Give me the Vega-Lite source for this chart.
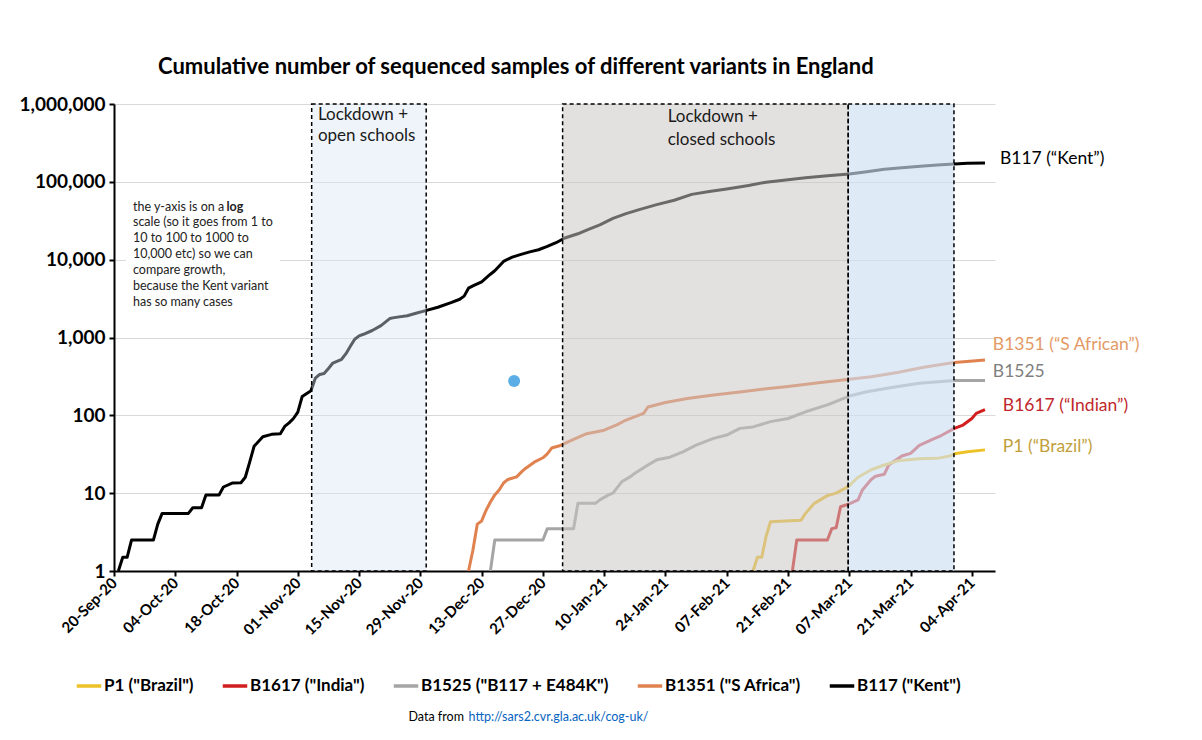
{
  "$schema": "https://vega.github.io/schema/vega-lite/v6.json",
  "width": 881,
  "height": 467,
  "autosize": {"type": "none"},
  "padding": {"left": 114, "top": 104, "right": 207, "bottom": 169},
  "background": "white",
  "title": {"text": "Cumulative number of sequenced samples of different variants in England", "anchor": "start", "frame": "group", "dx": 44, "offset": 16, "font": "Lato", "fontSize": 22, "fontWeight": "bold", "color": "black"},
  "config": {
    "view": {"stroke": null},
    "font": "Lato"
  },
  "datasets": {
    "series": [
      {"date": "2020-09-21", "value": 1, "variant": "B117"},
      {"date": "2020-09-22", "value": 1.5, "variant": "B117"},
      {"date": "2020-09-23", "value": 1.5, "variant": "B117"},
      {"date": "2020-09-24", "value": 2.5, "variant": "B117"},
      {"date": "2020-09-29", "value": 2.5, "variant": "B117"},
      {"date": "2020-09-30", "value": 4, "variant": "B117"},
      {"date": "2020-10-01", "value": 5.5, "variant": "B117"},
      {"date": "2020-10-07", "value": 5.5, "variant": "B117"},
      {"date": "2020-10-08", "value": 6.5, "variant": "B117"},
      {"date": "2020-10-10", "value": 6.5, "variant": "B117"},
      {"date": "2020-10-11", "value": 9.5, "variant": "B117"},
      {"date": "2020-10-14", "value": 9.5, "variant": "B117"},
      {"date": "2020-10-15", "value": 12, "variant": "B117"},
      {"date": "2020-10-17", "value": 13.5, "variant": "B117"},
      {"date": "2020-10-19", "value": 13.6, "variant": "B117"},
      {"date": "2020-10-20", "value": 16, "variant": "B117"},
      {"date": "2020-10-21", "value": 25, "variant": "B117"},
      {"date": "2020-10-22", "value": 40, "variant": "B117"},
      {"date": "2020-10-24", "value": 53, "variant": "B117"},
      {"date": "2020-10-26", "value": 57, "variant": "B117"},
      {"date": "2020-10-28", "value": 58, "variant": "B117"},
      {"date": "2020-10-29", "value": 72, "variant": "B117"},
      {"date": "2020-10-30", "value": 80, "variant": "B117"},
      {"date": "2020-10-31", "value": 91, "variant": "B117"},
      {"date": "2020-11-01", "value": 110, "variant": "B117"},
      {"date": "2020-11-02", "value": 175, "variant": "B117"},
      {"date": "2020-11-04", "value": 207, "variant": "B117"},
      {"date": "2020-11-05", "value": 300, "variant": "B117"},
      {"date": "2020-11-06", "value": 335, "variant": "B117"},
      {"date": "2020-11-07", "value": 345, "variant": "B117"},
      {"date": "2020-11-08", "value": 400, "variant": "B117"},
      {"date": "2020-11-09", "value": 470, "variant": "B117"},
      {"date": "2020-11-11", "value": 525, "variant": "B117"},
      {"date": "2020-11-12", "value": 620, "variant": "B117"},
      {"date": "2020-11-13", "value": 770, "variant": "B117"},
      {"date": "2020-11-14", "value": 950, "variant": "B117"},
      {"date": "2020-11-15", "value": 1050, "variant": "B117"},
      {"date": "2020-11-16", "value": 1100, "variant": "B117"},
      {"date": "2020-11-18", "value": 1230, "variant": "B117"},
      {"date": "2020-11-20", "value": 1420, "variant": "B117"},
      {"date": "2020-11-22", "value": 1750, "variant": "B117"},
      {"date": "2020-11-23", "value": 1800, "variant": "B117"},
      {"date": "2020-11-26", "value": 1900, "variant": "B117"},
      {"date": "2020-11-28", "value": 2050, "variant": "B117"},
      {"date": "2020-11-30", "value": 2200, "variant": "B117"},
      {"date": "2020-12-03", "value": 2450, "variant": "B117"},
      {"date": "2020-12-06", "value": 2800, "variant": "B117"},
      {"date": "2020-12-08", "value": 3100, "variant": "B117"},
      {"date": "2020-12-09", "value": 3400, "variant": "B117"},
      {"date": "2020-12-10", "value": 4300, "variant": "B117"},
      {"date": "2020-12-11", "value": 4600, "variant": "B117"},
      {"date": "2020-12-13", "value": 5200, "variant": "B117"},
      {"date": "2020-12-15", "value": 6500, "variant": "B117"},
      {"date": "2020-12-16", "value": 7200, "variant": "B117"},
      {"date": "2020-12-18", "value": 9500, "variant": "B117"},
      {"date": "2020-12-20", "value": 10800, "variant": "B117"},
      {"date": "2020-12-22", "value": 11700, "variant": "B117"},
      {"date": "2020-12-24", "value": 12600, "variant": "B117"},
      {"date": "2020-12-26", "value": 13400, "variant": "B117"},
      {"date": "2020-12-28", "value": 14800, "variant": "B117"},
      {"date": "2020-12-30", "value": 16500, "variant": "B117"},
      {"date": "2021-01-01", "value": 19000, "variant": "B117"},
      {"date": "2021-01-04", "value": 21500, "variant": "B117"},
      {"date": "2021-01-06", "value": 24000, "variant": "B117"},
      {"date": "2021-01-09", "value": 28000, "variant": "B117"},
      {"date": "2021-01-12", "value": 34000, "variant": "B117"},
      {"date": "2021-01-15", "value": 39000, "variant": "B117"},
      {"date": "2021-01-18", "value": 44000, "variant": "B117"},
      {"date": "2021-01-22", "value": 51000, "variant": "B117"},
      {"date": "2021-01-26", "value": 58000, "variant": "B117"},
      {"date": "2021-01-30", "value": 69000, "variant": "B117"},
      {"date": "2021-02-03", "value": 75000, "variant": "B117"},
      {"date": "2021-02-07", "value": 81000, "variant": "B117"},
      {"date": "2021-02-12", "value": 90000, "variant": "B117"},
      {"date": "2021-02-16", "value": 99000, "variant": "B117"},
      {"date": "2021-02-21", "value": 106000, "variant": "B117"},
      {"date": "2021-02-25", "value": 113000, "variant": "B117"},
      {"date": "2021-03-02", "value": 120000, "variant": "B117"},
      {"date": "2021-03-07", "value": 126000, "variant": "B117"},
      {"date": "2021-03-11", "value": 135000, "variant": "B117"},
      {"date": "2021-03-15", "value": 145000, "variant": "B117"},
      {"date": "2021-03-19", "value": 152000, "variant": "B117"},
      {"date": "2021-03-24", "value": 160000, "variant": "B117"},
      {"date": "2021-03-28", "value": 166000, "variant": "B117"},
      {"date": "2021-03-31", "value": 170000, "variant": "B117"},
      {"date": "2021-04-03", "value": 173000, "variant": "B117"},
      {"date": "2021-04-07", "value": 175000, "variant": "B117"},

      {"date": "2020-12-10", "value": 1, "variant": "B1351"},
      {"date": "2020-12-11", "value": 1.85, "variant": "B1351"},
      {"date": "2020-12-12", "value": 4, "variant": "B1351"},
      {"date": "2020-12-13", "value": 4.4, "variant": "B1351"},
      {"date": "2020-12-14", "value": 6, "variant": "B1351"},
      {"date": "2020-12-15", "value": 7.7, "variant": "B1351"},
      {"date": "2020-12-16", "value": 9.5, "variant": "B1351"},
      {"date": "2020-12-17", "value": 11, "variant": "B1351"},
      {"date": "2020-12-18", "value": 13.5, "variant": "B1351"},
      {"date": "2020-12-19", "value": 15, "variant": "B1351"},
      {"date": "2020-12-21", "value": 16.2, "variant": "B1351"},
      {"date": "2020-12-22", "value": 18.5, "variant": "B1351"},
      {"date": "2020-12-23", "value": 20.8, "variant": "B1351"},
      {"date": "2020-12-25", "value": 25, "variant": "B1351"},
      {"date": "2020-12-27", "value": 28.5, "variant": "B1351"},
      {"date": "2020-12-28", "value": 32, "variant": "B1351"},
      {"date": "2020-12-29", "value": 38, "variant": "B1351"},
      {"date": "2020-12-31", "value": 41, "variant": "B1351"},
      {"date": "2021-01-03", "value": 49, "variant": "B1351"},
      {"date": "2021-01-06", "value": 58, "variant": "B1351"},
      {"date": "2021-01-10", "value": 64.5, "variant": "B1351"},
      {"date": "2021-01-13", "value": 76, "variant": "B1351"},
      {"date": "2021-01-15", "value": 87, "variant": "B1351"},
      {"date": "2021-01-19", "value": 106, "variant": "B1351"},
      {"date": "2021-01-20", "value": 128, "variant": "B1351"},
      {"date": "2021-01-24", "value": 146, "variant": "B1351"},
      {"date": "2021-01-29", "value": 165, "variant": "B1351"},
      {"date": "2021-02-04", "value": 183, "variant": "B1351"},
      {"date": "2021-02-10", "value": 200, "variant": "B1351"},
      {"date": "2021-02-16", "value": 220, "variant": "B1351"},
      {"date": "2021-02-21", "value": 235, "variant": "B1351"},
      {"date": "2021-02-28", "value": 262, "variant": "B1351"},
      {"date": "2021-03-07", "value": 290, "variant": "B1351"},
      {"date": "2021-03-12", "value": 314, "variant": "B1351"},
      {"date": "2021-03-18", "value": 355, "variant": "B1351"},
      {"date": "2021-03-24", "value": 415, "variant": "B1351"},
      {"date": "2021-03-28", "value": 450, "variant": "B1351"},
      {"date": "2021-03-31", "value": 478, "variant": "B1351"},
      {"date": "2021-04-07", "value": 515, "variant": "B1351"},

      {"date": "2020-12-15", "value": 1, "variant": "B1525"},
      {"date": "2020-12-16", "value": 2.5, "variant": "B1525"},
      {"date": "2020-12-27", "value": 2.5, "variant": "B1525"},
      {"date": "2020-12-28", "value": 3.5, "variant": "B1525"},
      {"date": "2021-01-03", "value": 3.5, "variant": "B1525"},
      {"date": "2021-01-04", "value": 7.4, "variant": "B1525"},
      {"date": "2021-01-08", "value": 7.4, "variant": "B1525"},
      {"date": "2021-01-09", "value": 8.2, "variant": "B1525"},
      {"date": "2021-01-11", "value": 9.5, "variant": "B1525"},
      {"date": "2021-01-12", "value": 10, "variant": "B1525"},
      {"date": "2021-01-14", "value": 14, "variant": "B1525"},
      {"date": "2021-01-16", "value": 16.3, "variant": "B1525"},
      {"date": "2021-01-17", "value": 18, "variant": "B1525"},
      {"date": "2021-01-20", "value": 23, "variant": "B1525"},
      {"date": "2021-01-22", "value": 26.8, "variant": "B1525"},
      {"date": "2021-01-25", "value": 29, "variant": "B1525"},
      {"date": "2021-01-28", "value": 34, "variant": "B1525"},
      {"date": "2021-01-31", "value": 41.5, "variant": "B1525"},
      {"date": "2021-02-04", "value": 50.6, "variant": "B1525"},
      {"date": "2021-02-07", "value": 55.8, "variant": "B1525"},
      {"date": "2021-02-10", "value": 68, "variant": "B1525"},
      {"date": "2021-02-13", "value": 71, "variant": "B1525"},
      {"date": "2021-02-17", "value": 83, "variant": "B1525"},
      {"date": "2021-02-21", "value": 91, "variant": "B1525"},
      {"date": "2021-02-25", "value": 111, "variant": "B1525"},
      {"date": "2021-03-02", "value": 136, "variant": "B1525"},
      {"date": "2021-03-07", "value": 177, "variant": "B1525"},
      {"date": "2021-03-11", "value": 201, "variant": "B1525"},
      {"date": "2021-03-17", "value": 230, "variant": "B1525"},
      {"date": "2021-03-23", "value": 259, "variant": "B1525"},
      {"date": "2021-03-31", "value": 280, "variant": "B1525"},
      {"date": "2021-04-07", "value": 280, "variant": "B1525"},

      {"date": "2021-02-22", "value": 1, "variant": "B1617"},
      {"date": "2021-02-23", "value": 2.5, "variant": "B1617"},
      {"date": "2021-03-02", "value": 2.5, "variant": "B1617"},
      {"date": "2021-03-03", "value": 3.5, "variant": "B1617"},
      {"date": "2021-03-04", "value": 3.6, "variant": "B1617"},
      {"date": "2021-03-05", "value": 6.7, "variant": "B1617"},
      {"date": "2021-03-07", "value": 7.3, "variant": "B1617"},
      {"date": "2021-03-09", "value": 8.2, "variant": "B1617"},
      {"date": "2021-03-10", "value": 11, "variant": "B1617"},
      {"date": "2021-03-12", "value": 15, "variant": "B1617"},
      {"date": "2021-03-13", "value": 16.5, "variant": "B1617"},
      {"date": "2021-03-15", "value": 17.5, "variant": "B1617"},
      {"date": "2021-03-16", "value": 23, "variant": "B1617"},
      {"date": "2021-03-19", "value": 30, "variant": "B1617"},
      {"date": "2021-03-21", "value": 32.5, "variant": "B1617"},
      {"date": "2021-03-23", "value": 41, "variant": "B1617"},
      {"date": "2021-03-26", "value": 49, "variant": "B1617"},
      {"date": "2021-03-28", "value": 55, "variant": "B1617"},
      {"date": "2021-03-31", "value": 68, "variant": "B1617"},
      {"date": "2021-04-02", "value": 75, "variant": "B1617"},
      {"date": "2021-04-04", "value": 91, "variant": "B1617"},
      {"date": "2021-04-05", "value": 106, "variant": "B1617"},
      {"date": "2021-04-07", "value": 118, "variant": "B1617"},

      {"date": "2021-02-13", "value": 1, "variant": "P1"},
      {"date": "2021-02-14", "value": 1.5, "variant": "P1"},
      {"date": "2021-02-15", "value": 1.5, "variant": "P1"},
      {"date": "2021-02-16", "value": 2.8, "variant": "P1"},
      {"date": "2021-02-17", "value": 4.3, "variant": "P1"},
      {"date": "2021-02-24", "value": 4.5, "variant": "P1"},
      {"date": "2021-02-25", "value": 5.5, "variant": "P1"},
      {"date": "2021-02-27", "value": 7.4, "variant": "P1"},
      {"date": "2021-03-02", "value": 9.3, "variant": "P1"},
      {"date": "2021-03-04", "value": 10, "variant": "P1"},
      {"date": "2021-03-06", "value": 11.5, "variant": "P1"},
      {"date": "2021-03-07", "value": 12.5, "variant": "P1"},
      {"date": "2021-03-09", "value": 16, "variant": "P1"},
      {"date": "2021-03-12", "value": 20, "variant": "P1"},
      {"date": "2021-03-15", "value": 23, "variant": "P1"},
      {"date": "2021-03-18", "value": 26, "variant": "P1"},
      {"date": "2021-03-23", "value": 27.6, "variant": "P1"},
      {"date": "2021-03-27", "value": 28, "variant": "P1"},
      {"date": "2021-03-30", "value": 30, "variant": "P1"},
      {"date": "2021-03-31", "value": 32, "variant": "P1"},
      {"date": "2021-04-03", "value": 34, "variant": "P1"},
      {"date": "2021-04-07", "value": 36, "variant": "P1"}
    ],
    "regions": [
      {"start": "2020-11-04T04:00:00Z", "end": "2020-11-30T08:00:00Z", "region": "open"},
      {"start": "2020-12-31T12:00:00Z", "end": "2021-03-06T18:00:00Z", "region": "closed"},
      {"start": "2021-03-06T18:00:00Z", "end": "2021-03-30T22:00:00Z", "region": "march"}
    ],
    "box": [
      {"start": "2020-09-22T17:00:00Z", "end": "2020-10-27T22:00:00Z", "top": 67760, "bottom": 1946}
    ],
    "note": [
      {"date": "2020-09-24T08:00:00Z", "value": 47970, "text": "the y-axis is on a"},
      {"date": "2020-09-24T08:00:00Z", "value": 30060, "text": "scale (so it goes from 1 to"},
      {"date": "2020-09-24T08:00:00Z", "value": 18830, "text": "10 to 100 to 1000 to"},
      {"date": "2020-09-24T08:00:00Z", "value": 11800, "text": "10,000 etc) so we  can"},
      {"date": "2020-09-24T08:00:00Z", "value": 7390, "text": "compare growth,"},
      {"date": "2020-09-24T08:00:00Z", "value": 4630, "text": "because the  Kent variant"},
      {"date": "2020-09-24T08:00:00Z", "value": 2900, "text": "has so many cases"}
    ],
    "noteBold": [
      {"date": "2020-10-15T17:00:00Z", "value": 47970, "text": "log"}
    ],
    "lockdown": [
      {"date": "2020-11-05T14:00:00Z", "value": 722000, "text": "Lockdown +"},
      {"date": "2020-11-05T14:00:00Z", "value": 388000, "text": "open schools"},
      {"date": "2021-01-24T12:00:00Z", "value": 681000, "text": "Lockdown +"},
      {"date": "2021-01-24T12:00:00Z", "value": 345000, "text": "closed schools"}
    ],
    "labels": [
      {"date": "2021-04-10T10:00:00Z", "value": 196700, "text": "B117 (“Kent”)", "variant": "B117"},
      {"date": "2021-04-08T19:00:00Z", "value": 801, "text": "B1351 (“S African”)", "variant": "B1351"},
      {"date": "2021-04-08T19:00:00Z", "value": 361, "text": "B1525", "variant": "B1525"},
      {"date": "2021-04-11T02:00:00Z", "value": 132, "text": "B1617 (“Indian”)", "variant": "B1617"},
      {"date": "2021-04-11T02:00:00Z", "value": 39.2, "text": "P1 (“Brazil”)", "variant": "P1"}
    ],
    "dot": [
      {"date": "2020-12-20T10:00:00Z", "value": 276}
    ]
  },
  "resolve": {"scale": {"fill": "independent", "opacity": "independent"}},
  "layer": [
    {
      "data": {"name": "box"},
      "mark": {"type": "rect", "fill": "white"},
      "encoding": {
        "x": {"field": "start", "type": "temporal"},
        "x2": {"field": "end"},
        "y": {"field": "top", "type": "quantitative"},
        "y2": {"field": "bottom"}
      }
    },
    {
      "data": {"name": "series"},
      "mark": {"type": "line", "strokeWidth": 3, "strokeJoin": "round", "clip": true},
      "encoding": {
        "x": {
          "field": "date", "type": "temporal",
          "scale": {"type": "utc", "nice": false, "domain": [{"year": 2020, "month": 9, "date": 20, "utc": true}, {"year": 2021, "month": 4, "date": 9, "hours": 7, "utc": true}]},
          "axis": {
            "values": [
              {"year": 2020, "month": 9, "date": 20, "utc": true},
              {"year": 2020, "month": 10, "date": 4, "utc": true},
              {"year": 2020, "month": 10, "date": 18, "utc": true},
              {"year": 2020, "month": 11, "date": 1, "utc": true},
              {"year": 2020, "month": 11, "date": 15, "utc": true},
              {"year": 2020, "month": 11, "date": 29, "utc": true},
              {"year": 2020, "month": 12, "date": 13, "utc": true},
              {"year": 2020, "month": 12, "date": 27, "utc": true},
              {"year": 2021, "month": 1, "date": 10, "utc": true},
              {"year": 2021, "month": 1, "date": 24, "utc": true},
              {"year": 2021, "month": 2, "date": 7, "utc": true},
              {"year": 2021, "month": 2, "date": 21, "utc": true},
              {"year": 2021, "month": 3, "date": 7, "utc": true},
              {"year": 2021, "month": 3, "date": 21, "utc": true},
              {"year": 2021, "month": 4, "date": 4, "utc": true}
            ],
            "format": "%d-%b-%y",
            "labelAngle": -45,
            "labelAlign": "right",
            "labelBaseline": "middle",
            "labelOverlap": false,
            "labelFont": "Lato",
            "labelFontSize": 15,
            "labelFontWeight": "bold",
            "labelColor": "black",
            "labelPadding": 4,
            "grid": false,
            "domainColor": "black",
            "domainWidth": 2,
            "tickColor": "black",
            "tickWidth": 2,
            "tickSize": 5,
            "title": "http://sars2.cvr.gla.ac.uk/cog-uk/",
            "titleX": 354,
            "titleY": 145,
            "titleAlign": "left",
            "titleBaseline": "middle",
            "titleFont": "Lato",
            "titleFontSize": 12.5,
            "titleFontWeight": "normal",
            "titleColor": "#0563C1"
          }
        },
        "y": {
          "field": "value", "type": "quantitative",
          "scale": {"type": "log", "domain": [1, 1000000]},
          "axis": {
            "values": [1, 10, 100, 1000, 10000, 100000, 1000000],
            "format": ",",
            "labelFont": "Lato",
            "labelFontSize": 19,
            "labelFontWeight": "bold",
            "labelColor": "black",
            "labelPadding": 4,
            "grid": true,
            "gridColor": "#D9D9D9",
            "gridWidth": 1,
            "domainColor": "black",
            "domainWidth": 2,
            "tickColor": "black",
            "tickWidth": 2,
            "tickSize": 5,
            "title": "Data from",
            "titleAngle": 0,
            "titleX": 294,
            "titleY": 612,
            "titleAlign": "left",
            "titleBaseline": "middle",
            "titleFont": "Lato",
            "titleFontSize": 12.5,
            "titleFontWeight": "normal",
            "titleColor": "black"
          }
        },
        "color": {
          "field": "variant", "type": "nominal",
          "scale": {"domain": ["P1", "B1617", "B1525", "B1351", "B117"], "range": ["#EDC128", "#D21E1E", "#A5A5A5", "#E08250", "#000000"]},
          "legend": {
            "orient": "none", "legendX": -39, "legendY": 568, "direction": "horizontal", "title": null,
            "symbolType": "stroke", "symbolStrokeWidth": 3.5, "symbolSize": 600,
            "labelFont": "Lato", "labelFontSize": 17, "labelFontWeight": "bold", "labelColor": "black",
            "labelOffset": 1, "columnPadding": 21, "labelLimit": 400,
            "labelExpr": "{'P1': 'P1 (\"Brazil\")', 'B1617': 'B1617 (\"India\")', 'B1525': 'B1525 (\"B117 + E484K\")', 'B1351': 'B1351 (\"S Africa\")', 'B117': 'B117 (\"Kent\")'}[datum.label]"
          }
        }
      }
    },
    {
      "data": {"name": "regions"},
      "mark": {"type": "rect"},
      "encoding": {
        "x": {"field": "start", "type": "temporal"},
        "x2": {"field": "end"},
        "fill": {"field": "region", "type": "nominal", "scale": {"domain": ["open", "closed", "march"], "range": ["#D9E5F6", "#CBC4C4", "#CEDEF2"]}, "legend": null},
        "opacity": {"field": "region", "type": "nominal", "scale": {"domain": ["open", "closed", "march"], "range": [0.42, 0.65, 0.55]}, "legend": null}
      }
    },
    {
      "data": {"name": "regions"},
      "mark": {"type": "rect", "fillOpacity": 0, "stroke": "black", "strokeWidth": 1.5, "strokeDash": [4, 3]},
      "encoding": {
        "x": {"field": "start", "type": "temporal"},
        "x2": {"field": "end"}
      }
    },
    {
      "data": {"name": "dot"},
      "mark": {"type": "point", "shape": "circle", "filled": true, "size": 144, "color": "#5BAEE5", "opacity": 1},
      "encoding": {
        "x": {"field": "date", "type": "temporal"},
        "y": {"field": "value", "type": "quantitative"}
      }
    },
    {
      "data": {"name": "note"},
      "mark": {"type": "text", "align": "left", "baseline": "middle", "font": "Lato", "fontSize": 12.5, "color": "#222222"},
      "encoding": {
        "x": {"field": "date", "type": "temporal"},
        "y": {"field": "value", "type": "quantitative"},
        "text": {"field": "text"}
      }
    },
    {
      "data": {"name": "noteBold"},
      "mark": {"type": "text", "align": "left", "baseline": "middle", "font": "Lato", "fontSize": 12.5, "fontWeight": "bold", "color": "#222222"},
      "encoding": {
        "x": {"field": "date", "type": "temporal"},
        "y": {"field": "value", "type": "quantitative"},
        "text": {"field": "text"}
      }
    },
    {
      "data": {"name": "lockdown"},
      "mark": {"type": "text", "align": "left", "baseline": "middle", "font": "Lato", "fontSize": 17, "color": "#1A1A1A"},
      "encoding": {
        "x": {"field": "date", "type": "temporal"},
        "y": {"field": "value", "type": "quantitative"},
        "text": {"field": "text"}
      }
    },
    {
      "data": {"name": "labels"},
      "mark": {"type": "text", "align": "left", "baseline": "middle", "font": "Lato", "fontSize": 17.5},
      "encoding": {
        "x": {"field": "date", "type": "temporal"},
        "y": {"field": "value", "type": "quantitative"},
        "text": {"field": "text"},
        "fill": {"field": "variant", "type": "nominal", "scale": {"domain": ["B117", "B1351", "B1525", "B1617", "P1"], "range": ["#000000", "#E39A66", "#7F7F7F", "#C0282D", "#BFA03C"]}, "legend": null}
      }
    }
  ]
}
